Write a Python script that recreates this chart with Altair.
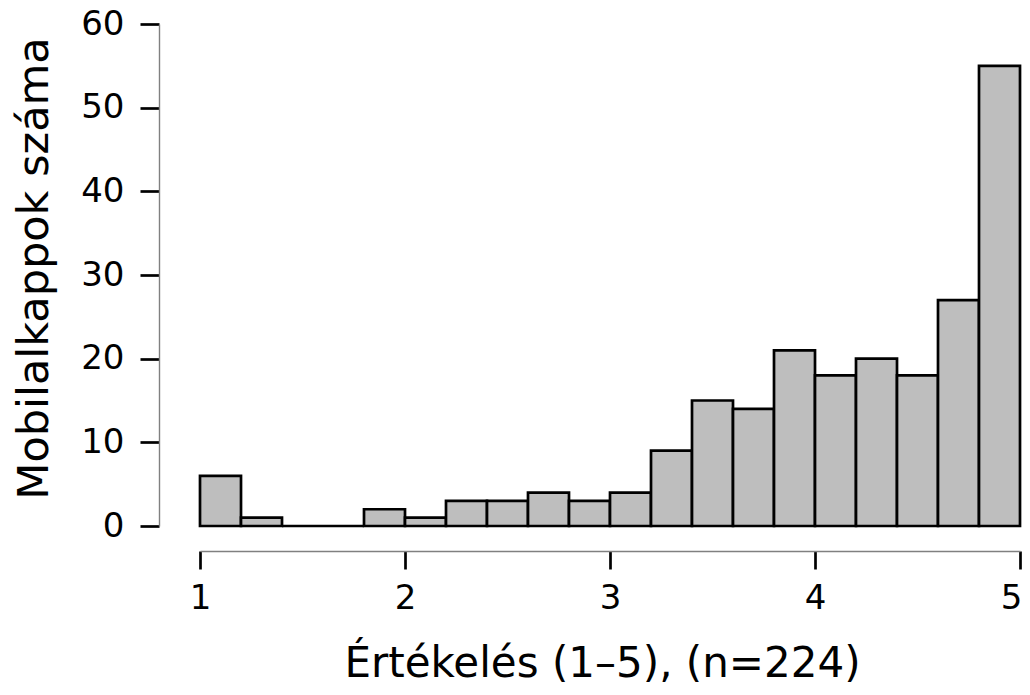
import altair as alt
import pandas as pd

bin_start = [1.0, 1.2, 1.4, 1.6, 1.8, 2.0, 2.2, 2.4, 2.6, 2.8,
             3.0, 3.2, 3.4, 3.6, 3.8, 4.0, 4.2, 4.4, 4.6, 4.8]
bin_width = 0.2
counts = [6, 1, 0, 0, 2, 1, 3, 3, 4, 3,
          4, 9, 15, 14, 21, 18, 20, 18, 27, 55]
x_ticks = [1, 2, 3, 4, 5]
y_ticks = [0, 10, 20, 30, 40, 50, 60]

df = pd.DataFrame({
    "start": bin_start,
    "end": [round(s + bin_width, 2) for s in bin_start],
    "count": counts,
})

FONT = "DejaVu Sans"

chart = alt.Chart(df).mark_rect(
    fill="#bebebe", stroke="black", strokeWidth=2.7
).encode(
    x=alt.X("start:Q",
            scale=alt.Scale(domain=[1, 5], nice=False, zero=False),
            axis=alt.Axis(values=x_ticks, title="Értékelés (1–5), (n=224)",
                          offset=25, grid=False, tickSize=18, tickWidth=2.7,
                          tickColor="black", domainColor="#808080", domainWidth=1.4,
                          labelFont=FONT, labelFontSize=34, labelColor="black",
                          labelPadding=12, labelFlush=False, labelOverlap=False,
                          labelOffset={"condition": {"test": "datum.value === 5", "value": -9}, "value": 0},
                          titleFont=FONT, titleFontSize=42, titleFontWeight="normal",
                          titleColor="black", titleBaseline="alphabetic",
                          titleX=402, titleY=125, titleAlign="center")),
    x2="end:Q",
    y=alt.Y("count:Q",
            scale=alt.Scale(domain=[0, 60], nice=False),
            axis=alt.Axis(values=y_ticks, title="Mobilalkappok száma",
                          offset=41, grid=False, tickSize=19, tickWidth=2.7,
                          tickColor="black", domainColor="#808080", domainWidth=1.4,
                          labelFont=FONT, labelFontSize=34, labelColor="black",
                          labelPadding=16, labelFlush=False, labelOverlap=False,
                          titleFont=FONT, titleFontSize=43, titleFontWeight="normal",
                          titleColor="black", titleBaseline="alphabetic",
                          titleAngle=270, titleX=-112, titleY=244,
                          titleAlign="center")),
    y2=alt.datum(0),
).properties(
    width=820, height=502,
    autosize=alt.AutoSizeParams(type="none"),
    padding={"left": 192, "top": 16, "right": 2, "bottom": 161},
).configure_view(stroke=None)

chart.save("out.html", embed_options={"renderer": "svg", "actions": False})
